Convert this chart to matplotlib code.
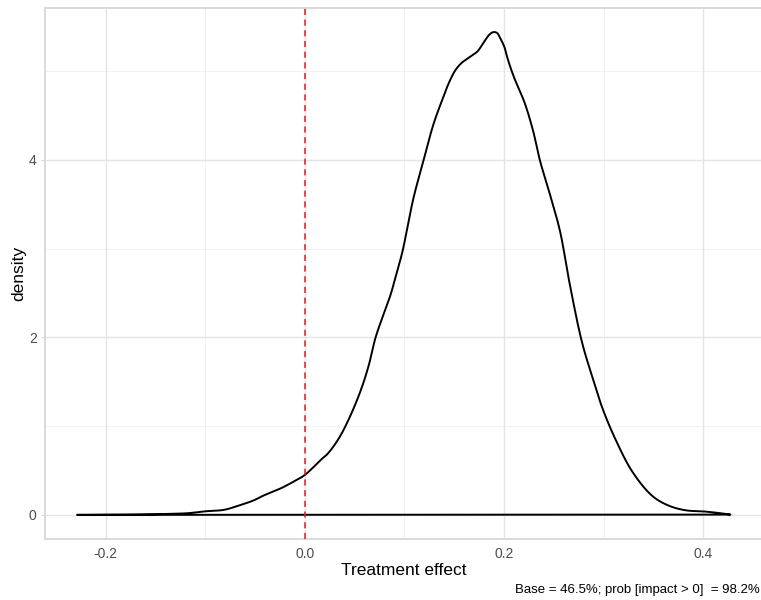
import matplotlib
matplotlib.use("Agg")
import matplotlib.pyplot as plt
import numpy as np

plt.rcParams['font.family'] = ['Liberation Sans', 'DejaVu Sans']

# Density curve
effect = [-0.228, -0.19, -0.164, -0.140, -0.117, -0.100, -0.081, -0.065, -0.052,
          -0.041, -0.024, -0.012, 0.000, 0.016, 0.023, 0.034, 0.045, 0.056, 0.064,
          0.071, 0.079, 0.086, 0.092, 0.098, 0.109, 0.119, 0.129, 0.139, 0.145,
          0.151, 0.157, 0.163, 0.168, 0.173, 0.177, 0.181, 0.185, 0.189, 0.193,
          0.196, 0.200, 0.203, 0.207, 0.211, 0.216, 0.221, 0.229, 0.236, 0.246,
          0.256, 0.266, 0.278, 0.288, 0.299, 0.313, 0.329, 0.349, 0.366, 0.383,
          0.399, 0.416, 0.427]
density = [0.0, 0.002, 0.005, 0.010, 0.019, 0.040, 0.057, 0.11, 0.16,
           0.22, 0.30, 0.37, 0.45, 0.62, 0.69, 0.86, 1.10, 1.40, 1.68,
           2.00, 2.26, 2.48, 2.72, 2.97, 3.57, 3.99, 4.40, 4.71, 4.88,
           5.01, 5.09, 5.14, 5.18, 5.22, 5.28, 5.35, 5.41, 5.44, 5.43,
           5.37, 5.28, 5.16, 5.02, 4.90, 4.77, 4.63, 4.33, 3.99, 3.61,
           3.20, 2.59, 1.95, 1.57, 1.19, 0.82, 0.48, 0.21, 0.10, 0.05,
           0.04, 0.02, 0.003]

x_ticks = [-0.2, 0.0, 0.2, 0.4]
x_tick_labels = ["-0.2", "0.0", "0.2", "0.4"]
y_ticks = [0, 2, 4]
y_tick_labels = ["0", "2", "4"]
x_minor = [-0.1, 0.1, 0.3]
y_minor = [1, 3, 5]
ref_line = 0.0

caption = "Base = 46.5%; prob [impact > 0]  = 98.2%"


def smooth_path(px, py, n=12):
    """Centripetal Catmull-Rom rendering through the read points (display only)."""
    P = np.column_stack([px, py])
    S = P * np.array([1000.0, 88.0])
    S = np.vstack([2*S[0]-S[1], S, 2*S[-1]-S[-2]])
    out = []
    for i in range(1, len(S) - 2):
        p0, p1, p2, p3 = S[i-1], S[i], S[i+1], S[i+2]
        def tj(ti, a, b):
            return ti + max(np.linalg.norm(b - a), 1e-6) ** 0.5
        t0 = 0.0
        t1 = tj(t0, p0, p1)
        t2 = tj(t1, p1, p2)
        t3 = tj(t2, p2, p3)
        t = np.linspace(t1, t2, n, endpoint=False)[:, None]
        A1 = (t1 - t)/(t1 - t0)*p0 + (t - t0)/(t1 - t0)*p1
        A2 = (t2 - t)/(t2 - t1)*p1 + (t - t1)/(t2 - t1)*p2
        A3 = (t3 - t)/(t3 - t2)*p2 + (t - t2)/(t3 - t2)*p3
        B1 = (t2 - t)/(t2 - t0)*A1 + (t - t0)/(t2 - t0)*A2
        B2 = (t3 - t)/(t3 - t1)*A2 + (t - t1)/(t3 - t1)*A3
        C = (t2 - t)/(t2 - t1)*B1 + (t - t1)/(t2 - t1)*B2
        out.append(C)
    out.append(S[-2][None, :])
    R = np.vstack(out) / np.array([1000.0, 88.0])
    return R[:, 0], np.maximum(R[:, 1], 0)


fig = plt.figure(figsize=(7.61, 6.0), dpi=100)
ax = fig.add_axes([45/761, 61/600, 718/761, 531/600])

x = np.array(effect)
y = np.array(density)
xr = x.max() - x.min()
yr = y.max() - y.min()
ax.set_xlim(x.min() - 0.05*xr, x.max() + 0.05*xr)
ax.set_ylim(-0.05*yr, y.max() + 0.05*yr)

# grids
for v in x_minor:
    ax.axvline(v, color='#f0f0f0', lw=0.6, zorder=0)
for v in y_minor:
    ax.axhline(v, color='#f0f0f0', lw=0.6, zorder=0)
for v in x_ticks:
    ax.axvline(v, color='#e4e4e4', lw=1.0, zorder=0)
for v in y_ticks:
    ax.axhline(v, color='#e4e4e4', lw=1.0, zorder=0)

# density outline (closed at baseline)
sx, sy = smooth_path(x, y)
ax.plot(np.concatenate([sx, [x[0]]]), np.concatenate([sy, [y[0]]]),
        color='black', lw=1.4, solid_joinstyle='round', zorder=3)

ax.axvline(ref_line, color='#e41a1c', lw=1.1, linestyle=(0, (4, 3)), zorder=4)

ax.set_xticks(x_ticks)
ax.set_xticklabels(x_tick_labels)
ax.set_yticks(y_ticks)
ax.set_yticklabels(y_tick_labels)
ax.tick_params(axis='x', length=0, pad=6, labelsize=10, labelcolor='#4d4d4d')
ax.tick_params(axis='y', length=3, width=0.6, color='#cccccc', pad=3,
               labelsize=10, labelcolor='#4d4d4d')

for side in ['left', 'top', 'bottom']:
    ax.spines[side].set_color('#d9d9d9')
    ax.spines[side].set_linewidth(1.4)
ax.spines['right'].set_visible(False)

ax.set_xlabel("Treatment effect", fontsize=12.5, color='black', labelpad=1)
ax.set_ylabel("density", fontsize=12.5, color='black', labelpad=2)

fig.text(761/761 - 0.001, 1 - 590/600, caption, ha='right', va='center',
         fontsize=9.5, color='black')

fig.savefig("out.png", dpi=100, facecolor='white')
